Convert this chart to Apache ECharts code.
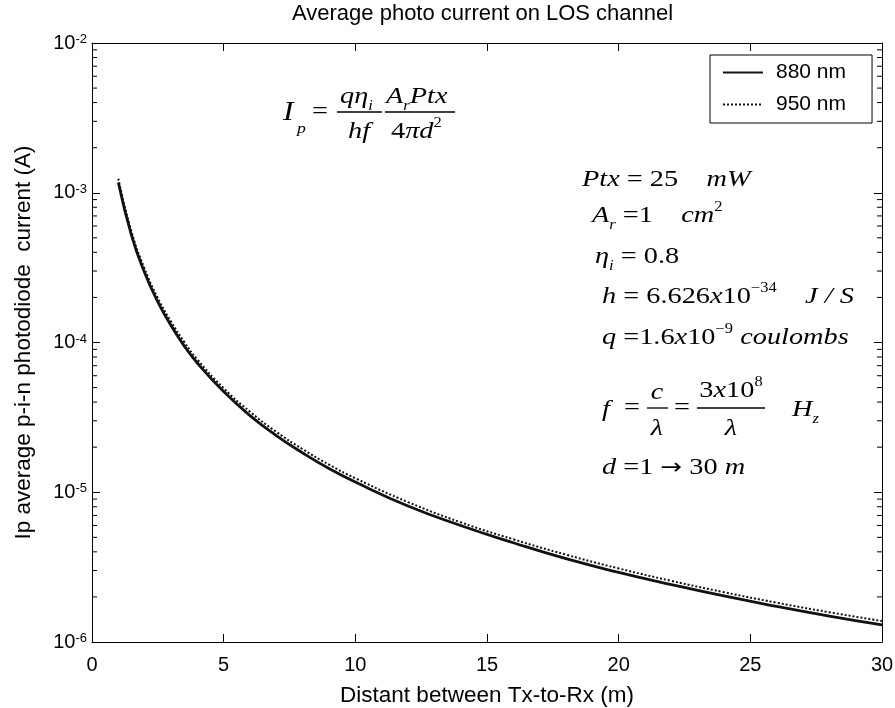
<!DOCTYPE html>
<html>
<head>
<meta charset="utf-8">
<script src="https://cdn.jsdelivr.net/npm/echarts@6/dist/echarts.min.js"></script>
<style>
html,body{margin:0;padding:0;background:#fff;}
#chart{width:895px;height:708px;}
</style>
</head>
<body>
<div id="chart"></div>
<script>
// ---- data ----
const distance = [1, 1.5, 2, 2.5, 3, 3.5, 4, 5, 6, 7, 8, 9, 10, 12, 14, 16, 18, 20, 22, 24, 26, 28, 30];
const current880 = [1.17e-3, 5.2e-4, 2.92e-4, 1.87e-4, 1.30e-4, 9.5e-5, 7.3e-5, 4.7e-5, 3.25e-5, 2.39e-5, 1.83e-5, 1.44e-5, 1.17e-5, 8.1e-6, 6.0e-6, 4.6e-6, 3.6e-6, 2.92e-6, 2.42e-6, 2.03e-6, 1.73e-6, 1.49e-6, 1.30e-6];
const current950 = [1.24e-3, 5.5e-4, 3.1e-4, 1.98e-4, 1.38e-4, 1.01e-4, 7.7e-5, 4.95e-5, 3.45e-5, 2.53e-5, 1.94e-5, 1.53e-5, 1.24e-5, 8.6e-6, 6.3e-6, 4.85e-6, 3.83e-6, 3.1e-6, 2.56e-6, 2.15e-6, 1.83e-6, 1.58e-6, 1.38e-6];
const seriesNames = ['880 nm', '950 nm'];
const xTickValues = [0, 5, 10, 15, 20, 25, 30];
const yDecadeExponents = [-6, -5, -4, -3, -2];
const minorMantissas = [2, 3, 4, 5, 6, 7, 8, 9];
const titleText = 'Average photo current on LOS channel';
const xName = 'Distant between Tx-to-Rx (m)';
const yName = 'Ip average p-i-n photodiode  current (A)';

// ---- build ----
const pairs = (xs, ys) => xs.map((x, i) => [x, ys[i]]);
const minorTickValues = [];
yDecadeExponents.slice(0, -1).forEach(e => minorMantissas.forEach(m => minorTickValues.push(m * Math.pow(10, e))));

const SANS = '"Liberation Sans", Arial, Helvetica, sans-serif';
const SERIF = '"Liberation Serif", "Times New Roman", "DejaVu Serif", serif';
const X0 = xTickValues[0], X1 = xTickValues[xTickValues.length - 1];
const FS = 24;      // annotation font size
const SX = 1.18;    // horizontal stretch of the scanned annotation text

const richMath = {
  i: {fontFamily: SERIF, fontStyle: 'italic', fontSize: FS, lineHeight: 32, fill: '#000', color: '#000'},
  n: {fontFamily: SERIF, fontSize: FS, lineHeight: 32, fill: '#000', color: '#000'},
  a: {fontFamily: '"DejaVu Sans", sans-serif', fontSize: 22, lineHeight: 32, fill: '#000', color: '#000'},
  sup: {fontFamily: SERIF, fontSize: 14, verticalAlign: 'top', fill: '#000', color: '#000'},
  sub: {fontFamily: SERIF, fontStyle: 'italic', fontSize: 14, verticalAlign: 'bottom', fill: '#000', color: '#000'}
};
function txt(x, y, text, opts) {
  opts = opts || {};
  return {
    type: 'text', x: x, y: y, scaleX: SX, silent: true,
    style: {
      text: text,
      fill: '#000',
      font: (opts.italic ? 'italic ' : '') + (opts.size || FS) + 'px ' + SERIF,
      align: opts.align || 'left', textAlign: opts.align || 'left',
      verticalAlign: 'middle', textVerticalAlign: 'middle',
      rich: richMath
    }
  };
}
function bar(x1, x2, y) {
  return {type: 'line', silent: true, shape: {x1: x1, y1: y, x2: x2, y2: y}, style: {stroke: '#000', lineWidth: 1.3}};
}

const graphics = [
  // I_p = (q eta_i / h f) (A_r Ptx / 4 pi d^2)
  txt(283, 113, 'I', {italic: true, size: 27}),
  txt(297, 129, 'p', {italic: true, size: 15}),
  txt(312, 112, '=', {}),
  txt(340, 97, '{i|qη}{sub|i}'),
  bar(337, 382, 112),
  txt(359, 132, 'hf', {italic: true, align: 'center'}),
  txt(386, 97, '{i|A}{sub|r}{i|Ptx}'),
  bar(385, 455, 112),
  txt(391, 132, '{n|4}{i|πd}{sup|2}'),
  // parameter block
  txt(582, 180, '{i|Ptx}{n| = 25    }{i|mW}'),
  txt(592, 216, '{i|A}{sub|r}{n| =1    }{i|cm}{sup|2}'),
  txt(595, 257, '{i|η}{sub|i}{n| = 0.8}'),
  txt(602, 297, '{i|h}{n| = 6.626}{i|x}{n|10}{sup|−34}{n|    }{i|J / S}'),
  txt(602, 338, '{i|q}{n| =1.6}{i|x}{n|10}{sup|−9}{n| }{i|coulombs}'),
  txt(602, 410, 'f', {italic: true}),
  txt(624, 408, '=', {}),
  txt(657, 393, 'c', {italic: true, align: 'center'}),
  bar(647, 668, 408),
  txt(657, 429, 'λ', {italic: true, align: 'center'}),
  txt(674, 408, '=', {}),
  txt(731, 391, '{n|3}{i|x}{n|10}{sup|8}', {align: 'center'}),
  bar(697, 765, 408),
  txt(731, 429, 'λ', {italic: true, align: 'center'}),
  txt(792, 410, '{i|H}{sub|z}'),
  txt(602, 468, '{i|d}{n| =1 }{a|→}{n| 30 }{i|m}')
];

const chart = echarts.init(document.getElementById('chart'), null, {renderer: 'canvas'});

const axisCommon = {
  axisLine: {show: true, onZero: false, lineStyle: {color: '#000', width: 1}},
  axisTick: {show: true, inside: true, length: 8, lineStyle: {color: '#000', width: 1}},
  splitLine: {show: false},
  minorTick: {show: false},
  minorSplitLine: {show: false}
};

const option = {
  animation: false,
  backgroundColor: '#fff',
  title: {
    text: titleText, left: 292, top: 3, padding: 0,
    textStyle: {fontFamily: SANS, fontSize: 22, fontWeight: 'normal', color: '#000'}
  },
  grid: {left: 92, right: 13, top: 43, bottom: 66, containLabel: false, outerBoundsMode: 'none'},
  legend: {
    data: seriesNames,
    orient: 'vertical', left: 710, top: 55,
    itemWidth: 40, itemHeight: 14, itemGap: 11,
    padding: [7, 26, 8, 12],
    borderColor: '#000', borderWidth: 1, borderRadius: 0, backgroundColor: '#fff',
    itemStyle: {opacity: 0, borderWidth: 0},
    textStyle: {fontFamily: SANS, fontSize: 21, color: '#000', padding: [0, 0, 0, 8]},
    selectedMode: false
  },
  xAxis: [
    Object.assign({}, axisCommon, {
      type: 'value', min: X0, max: X1, interval: 5, position: 'bottom',
      name: xName, nameLocation: 'middle', nameGap: 42,
      nameTextStyle: {fontFamily: SANS, fontSize: 22.5, color: '#000'},
      axisLabel: {show: true, fontFamily: SANS, fontSize: 20, color: '#000', margin: 13, hideOverlap: false, showMinLabel: true, showMaxLabel: true}
    }),
    Object.assign({}, axisCommon, {
      type: 'value', min: X0, max: X1, interval: 5, position: 'top',
      axisLabel: {show: false}
    })
  ],
  yAxis: [
    Object.assign({}, axisCommon, {
      type: 'log', logBase: 10, min: 1e-6, max: 1e-2, position: 'left',
      name: yName, nameLocation: 'middle', nameGap: 57,
      nameTextStyle: {fontFamily: SANS, fontSize: 22.5, color: '#000'},
      axisLabel: {
        show: true, margin: 5, hideOverlap: false, showMinLabel: true, showMaxLabel: true,
        formatter: v => '{b|10}{s|' + Math.round(Math.log10(v)) + '}',
        rich: {
          b: {fontFamily: SANS, fontSize: 20, color: '#000'},
          s: {fontFamily: SANS, fontSize: 13, color: '#000', verticalAlign: 'top'}
        }
      }
    }),
    Object.assign({}, axisCommon, {
      type: 'log', logBase: 10, min: 1e-6, max: 1e-2, position: 'right',
      axisLabel: {show: false}
    })
  ],
  series: [
    {
      name: seriesNames[0], type: 'line', xAxisIndex: 0, yAxisIndex: 0,
      data: pairs(distance, current880), smooth: true, symbol: 'none', showSymbol: false,
      lineStyle: {color: '#111', width: 2.8, type: 'solid'}, itemStyle: {color: '#111'}, z: 3
    },
    {
      name: seriesNames[1], type: 'line', xAxisIndex: 0, yAxisIndex: 0,
      data: pairs(distance, current950), smooth: true, symbol: 'none', showSymbol: false,
      lineStyle: {color: '#111', width: 2, type: 'dotted'}, itemStyle: {color: '#111'}, z: 4
    },
    {
      name: 'minorTicks', type: 'custom', xAxisIndex: 0, yAxisIndex: 0, silent: true,
      data: minorTickValues.map(v => [X0, v]),
      renderItem: function (params, api) {
        const v = api.value(1);
        const pl = api.coord([X0, v]);
        const pr = api.coord([X1, v]);
        return {
          type: 'group',
          children: [
            {type: 'line', shape: {x1: pl[0], y1: pl[1], x2: pl[0] + 5, y2: pl[1]}, style: {stroke: '#000', lineWidth: 1}},
            {type: 'line', shape: {x1: pr[0] - 5, y1: pr[1], x2: pr[0], y2: pr[1]}, style: {stroke: '#000', lineWidth: 1}}
          ]
        };
      }
    }
  ],
  graphic: graphics
};
chart.setOption(option);
</script>
</body>
</html>
